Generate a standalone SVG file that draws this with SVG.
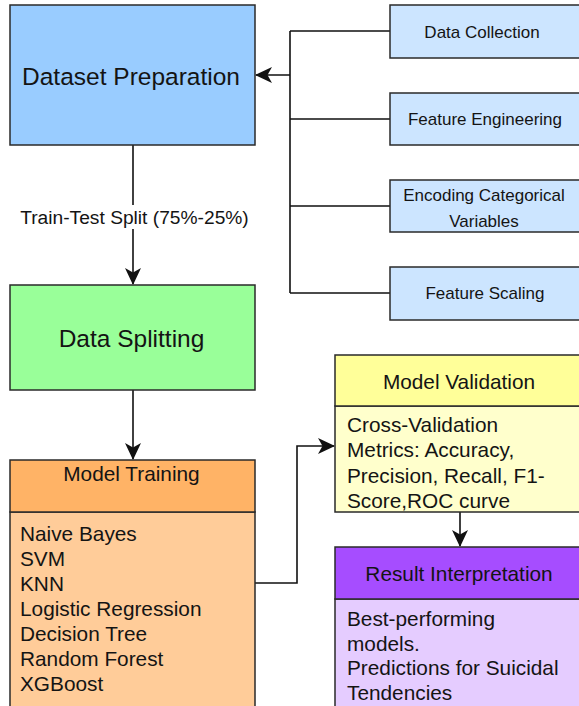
<svg xmlns="http://www.w3.org/2000/svg" width="579" height="706" viewBox="0 0 579 706">
<style>
text{font-family:"Liberation Sans",Arial,sans-serif;fill:#141414;dominant-baseline:central}
.box{stroke:#2a2a2a;stroke-width:1.5}
.c{text-anchor:middle}
.big{font-size:24.5px}
.mid{font-size:20.8px}
.sm{font-size:17px}
.ln{fill:none;stroke:#111;stroke-width:1.6}
</style>
<defs>
<marker id="arr" markerUnits="userSpaceOnUse" viewBox="0 0 17 16" refX="16" refY="8" markerWidth="17" markerHeight="16" orient="auto">
<path d="M0,0 L17,8 L0,16 L4.5,8 Z" fill="#111"/>
</marker>
</defs>
<rect width="579" height="706" fill="#fff"/>
<g id="connectors">
<path class="ln" d="M290,31 V293 M290,31 H390 M290,119 H390 M290,206 H390 M290,293 H390"/>
<path class="ln" d="M290,75 H256" marker-end="url(#arr)"/>
<path class="ln" d="M133,145 V284" marker-end="url(#arr)"/>
<rect x="16" y="205" width="238" height="24" fill="#fff"/>
<text class="c" x="134.5" y="217" style="font-size:19.2px">Train-Test Split (75%-25%)</text>
<path class="ln" d="M133,390 V459" marker-end="url(#arr)"/>
<path class="ln" d="M255,583 H297 V446 H334" marker-end="url(#arr)"/>
<path class="ln" d="M460,512 V546" marker-end="url(#arr)"/>
</g>
<g id="dataset-preparation">
<rect class="box" x="10" y="5" width="245" height="140" fill="#99ccff"/>
<text class="c big" x="131" y="76">Dataset Preparation</text>
</g>
<g id="data-collection">
<rect class="box" x="390" y="5" width="192" height="53" fill="#cce5ff"/>
<text class="c sm" x="482" y="32">Data Collection</text>
</g>
<g id="feature-engineering">
<rect class="box" x="390" y="93" width="192" height="52" fill="#cce5ff"/>
<text class="c sm" x="485" y="119">Feature Engineering</text>
</g>
<g id="encoding">
<rect class="box" x="390" y="180" width="192" height="52" fill="#cce5ff"/>
<text class="c sm" x="484" y="195">Encoding Categorical</text>
<text class="c sm" x="484" y="221">Variables</text>
</g>
<g id="feature-scaling">
<rect class="box" x="390" y="267" width="192" height="53" fill="#cce5ff"/>
<text class="c sm" x="485" y="293">Feature Scaling</text>
</g>
<g id="data-splitting">
<rect class="box" x="10" y="285" width="245" height="105" fill="#99ff99"/>
<text class="c big" x="131.5" y="338">Data Splitting</text>
</g>
<g id="model-training">
<rect class="box" x="10" y="512" width="245" height="204" fill="#ffcc99"/>
<rect class="box" x="10" y="460" width="245" height="52" fill="#ffb366"/>
<text class="c mid" x="131.5" y="473">Model Training</text>
<text class="mid" x="20" y="533">Naive Bayes</text>
<text class="mid" x="20" y="558">SVM</text>
<text class="mid" x="20" y="583">KNN</text>
<text class="mid" x="20" y="608">Logistic Regression</text>
<text class="mid" x="20" y="633">Decision Tree</text>
<text class="mid" x="20" y="658">Random Forest</text>
<text class="mid" x="20" y="683">XGBoost</text>
</g>
<g id="model-validation">
<rect class="box" x="335" y="406" width="250" height="106" fill="#ffffcc"/>
<rect class="box" x="335" y="355" width="250" height="51" fill="#ffff99"/>
<text class="c mid" x="459" y="381">Model Validation</text>
<text class="mid" x="347" y="424">Cross-Validation</text>
<text class="mid" x="347" y="449">Metrics: Accuracy,</text>
<text class="mid" x="347" y="475">Precision, Recall, F1-</text>
<text class="mid" x="347" y="500">Score,ROC curve</text>
</g>
<g id="result-interpretation">
<rect class="box" x="335" y="599" width="250" height="117" fill="#e5ccff"/>
<rect class="box" x="335" y="547" width="250" height="52" fill="#a64dff"/>
<text class="c mid" x="459" y="573">Result Interpretation</text>
<text class="mid" x="347" y="618">Best-performing</text>
<text class="mid" x="347" y="643">models.</text>
<text class="mid" x="347" y="667">Predictions for Suicidal</text>
<text class="mid" x="347" y="692">Tendencies</text>
</g>
</svg>
